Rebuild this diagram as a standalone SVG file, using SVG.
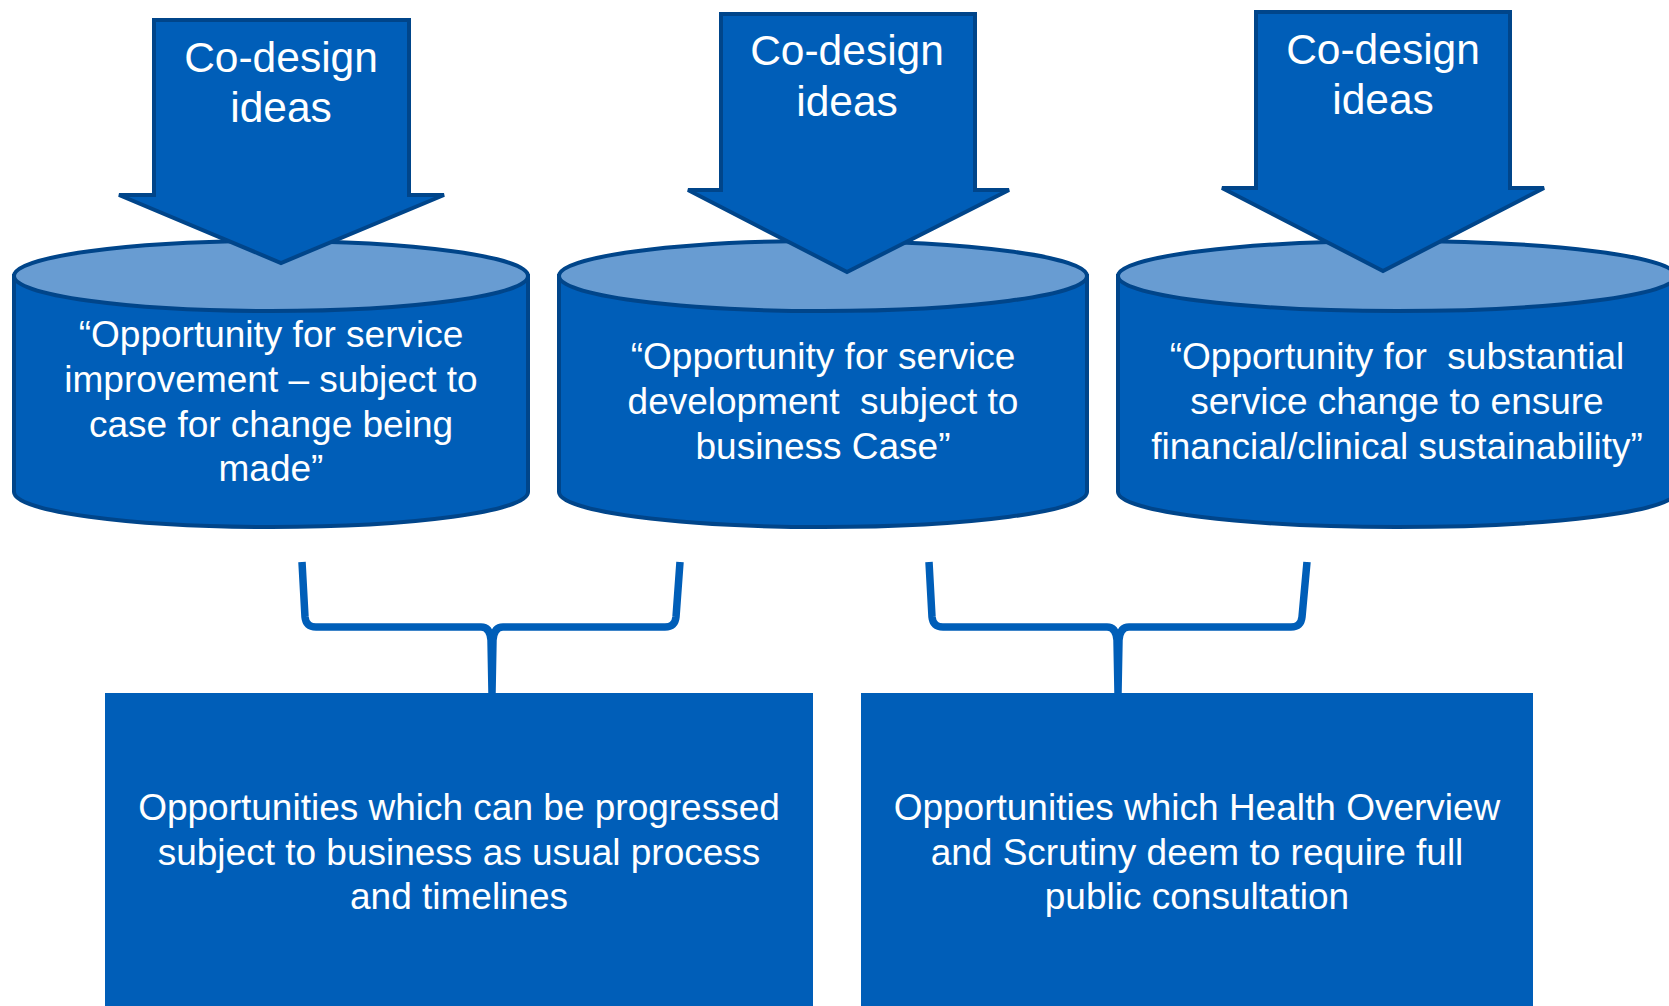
<svg xmlns="http://www.w3.org/2000/svg" width="1669" height="1006" viewBox="0 0 1669 1006">
<style>
.body{fill:#005EB8;stroke:#00458A;stroke-width:4}
.top{fill:#689CD2;stroke:#00458A;stroke-width:4}
.arrow{fill:#005EB8;stroke:#00458A;stroke-width:4;stroke-linejoin:miter}
.box{fill:#005EB8}
.brace{fill:none;stroke:#005EB8;stroke-width:7.5;stroke-linejoin:round}
text{font-family:"Liberation Sans",Arial,sans-serif;fill:#FFFFFF;text-anchor:middle}
.t1{font-size:42.5px}
.t2{font-size:37px}
</style>
<rect width="1669" height="1006" fill="#FFFFFF"/>
<g id="cyl1">
<path class="body" d="M14,276 L14,492 A257,35 0 0 0 528,492 L528,276 Z"/>
<ellipse class="top" cx="271" cy="276" rx="257" ry="35"/>
<text class="t2"><tspan x="271" y="347">“Opportunity for service</tspan><tspan x="271" y="392">improvement – subject to</tspan><tspan x="271" y="437">case for change being</tspan><tspan x="271" y="481">made”</tspan></text>
</g>
<g id="cyl2">
<path class="body" d="M559,276 L559,492 A264,35 0 0 0 1087,492 L1087,276 Z"/>
<ellipse class="top" cx="823" cy="276" rx="264" ry="35"/>
<text class="t2"><tspan x="823" y="369">“Opportunity for service</tspan><tspan x="823" y="414" xml:space="preserve">development  subject to</tspan><tspan x="823" y="459">business Case”</tspan></text>
</g>
<g id="cyl3">
<path class="body" d="M1118,276 L1118,492 A279,35 0 0 0 1676,492 L1676,276 Z"/>
<ellipse class="top" cx="1397" cy="276" rx="279" ry="35"/>
<text class="t2"><tspan x="1397" y="369" xml:space="preserve">“Opportunity for  substantial</tspan><tspan x="1397" y="414">service change to ensure</tspan><tspan x="1397" y="459">financial/clinical sustainability”</tspan></text>
</g>
<g id="arrow1">
<polygon class="arrow" points="154,20 409,20 409,195 444,195 281,263 119,195 154,195"/>
<text class="t1"><tspan x="281" y="72">Co-design</tspan><tspan x="281" y="122">ideas</tspan></text>
</g>
<g id="arrow2">
<polygon class="arrow" points="721,14 975,14 975,190 1009,190 847,272 688,190 721,190"/>
<text class="t1"><tspan x="847" y="65">Co-design</tspan><tspan x="847" y="116">ideas</tspan></text>
</g>
<g id="arrow3">
<polygon class="arrow" points="1256,12 1510,12 1510,188 1544,188 1383,271 1222,188 1256,188"/>
<text class="t1"><tspan x="1383" y="64">Co-design</tspan><tspan x="1383" y="114">ideas</tspan></text>
</g>
<g id="connectors">
<path class="brace" d="M302,562 L305,617 Q306,627 316,627 L481,627 Q490,627 491,640 L492,693 M680,562 L676,617 Q675,627 665,627 L503,627 Q494,627 493,640 L492,693"/>
<path class="brace" d="M929,562 L932,617 Q933,627 943,627 L1107,627 Q1116,627 1117,640 L1118,693 M1307,562 L1302,617 Q1301,627 1291,627 L1129,627 Q1120,627 1119,640 L1118,693"/>
</g>
<g id="box1">
<rect class="box" x="105" y="693" width="708" height="313"/>
<text class="t2"><tspan x="459" y="820">Opportunities which can be progressed</tspan><tspan x="459" y="865">subject to business as usual process</tspan><tspan x="459" y="909">and timelines</tspan></text>
</g>
<g id="box2">
<rect class="box" x="861" y="693" width="672" height="313"/>
<text class="t2"><tspan x="1197" y="820">Opportunities which Health Overview</tspan><tspan x="1197" y="865">and Scrutiny deem to require full</tspan><tspan x="1197" y="909">public consultation</tspan></text>
</g>
</svg>
